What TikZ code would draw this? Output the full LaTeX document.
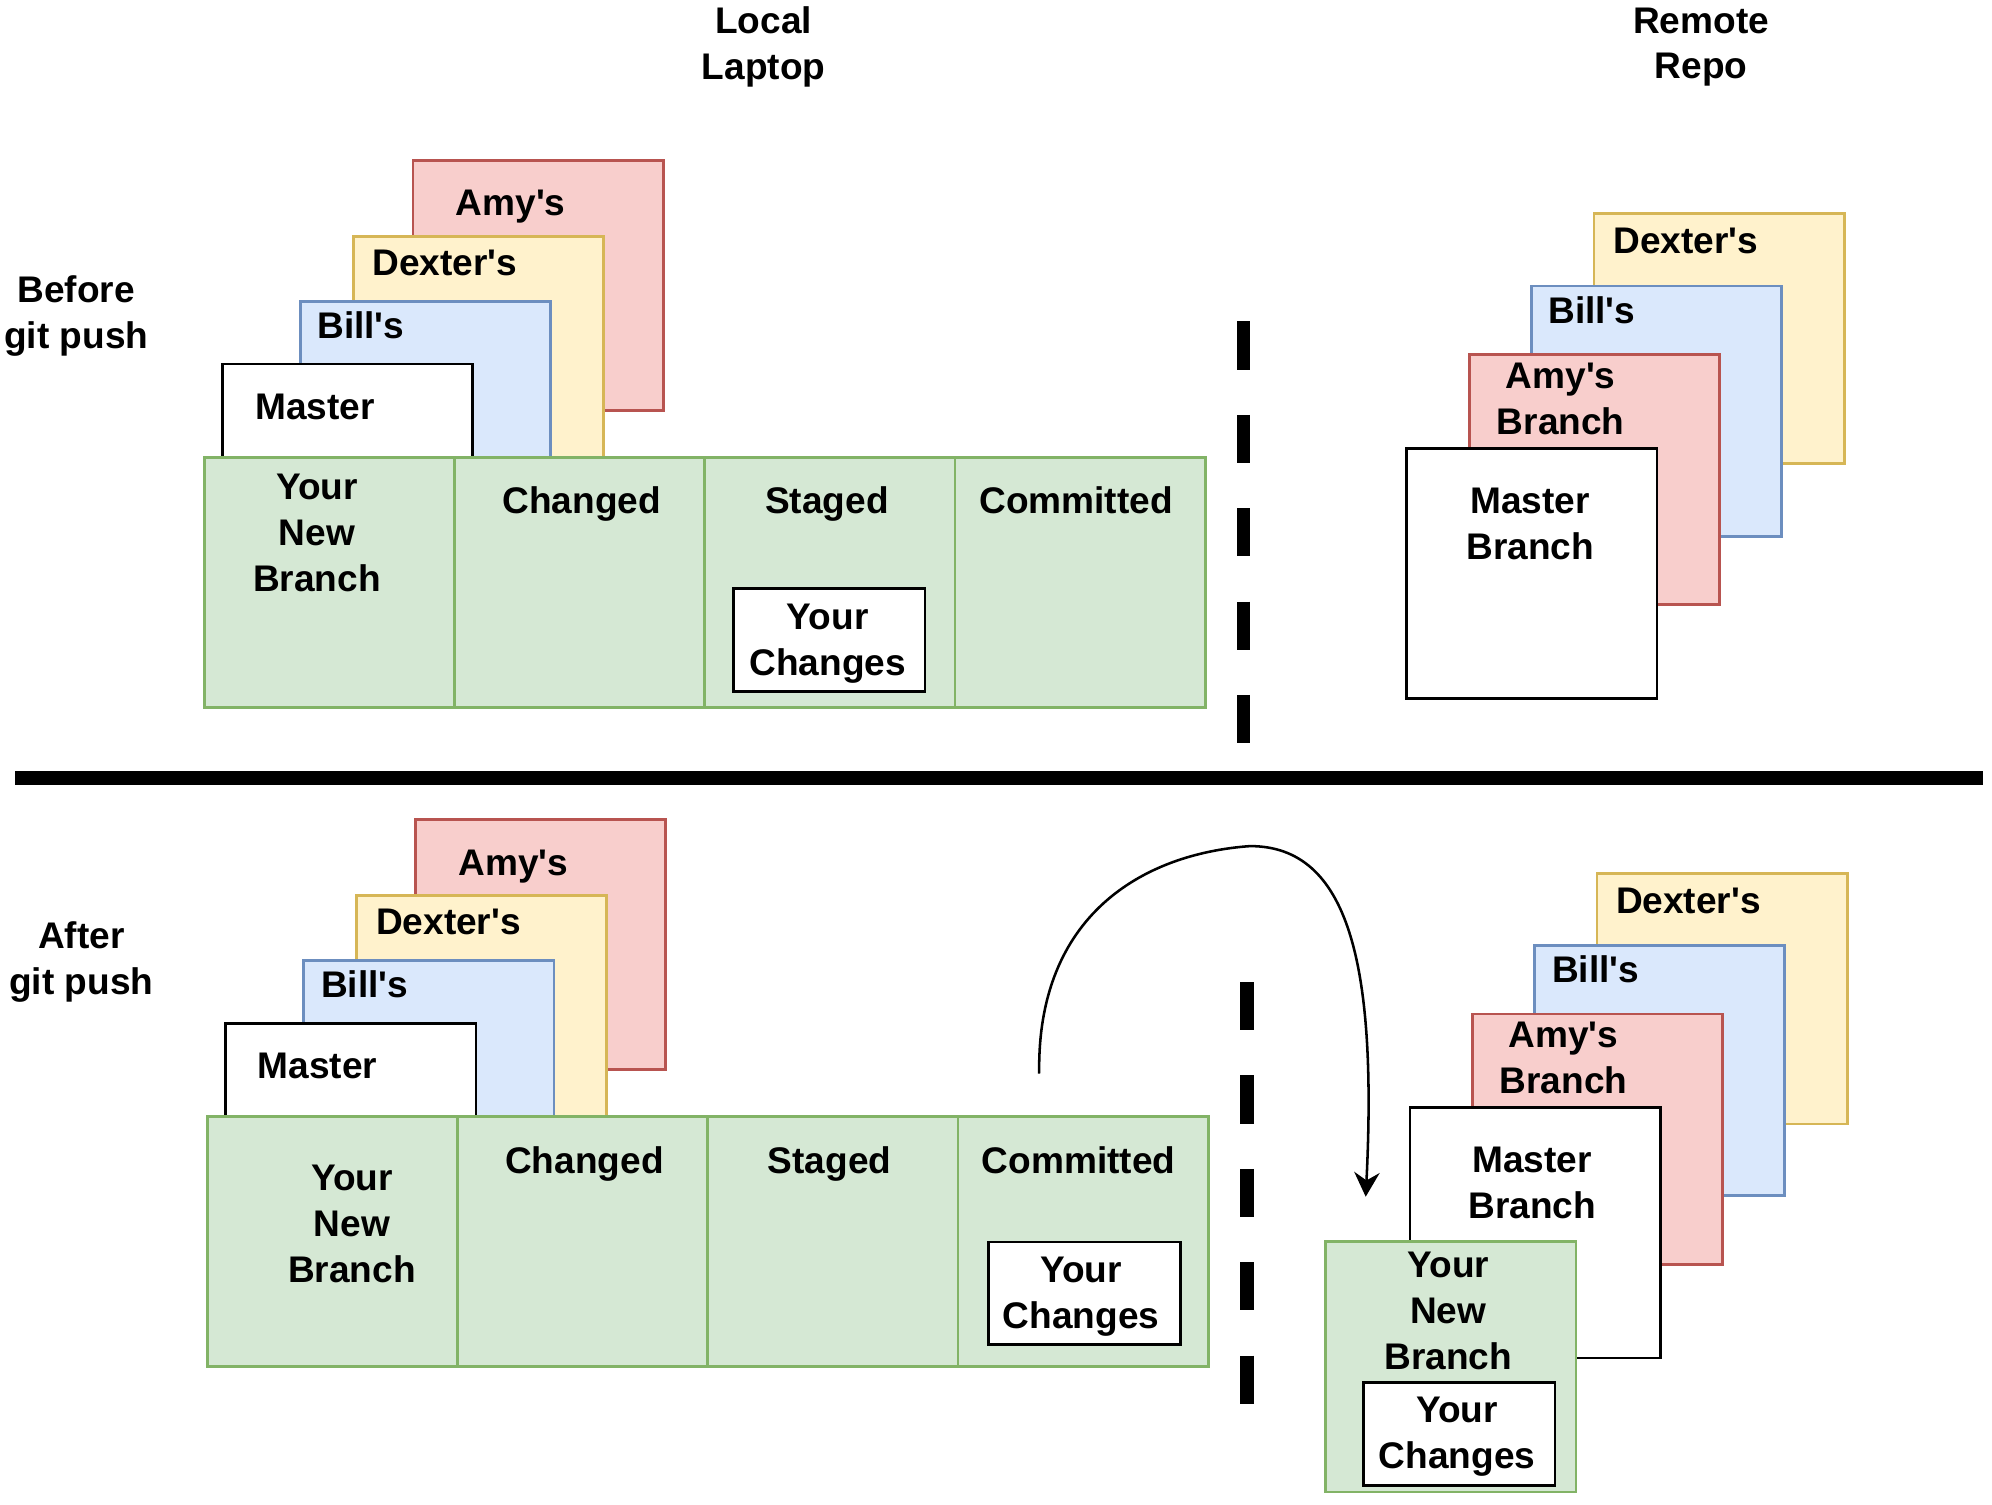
\documentclass[tikz,border=0pt]{standalone}
\usepackage{fontspec}
\setmainfont{Liberation Sans}
\usetikzlibrary{arrows.meta}
\definecolor{redF}{HTML}{F8CECC}\definecolor{redD}{HTML}{B85450}
\definecolor{yelF}{HTML}{FFF2CC}\definecolor{yelD}{HTML}{D6B656}
\definecolor{bluF}{HTML}{DAE8FC}\definecolor{bluD}{HTML}{6C8EBF}
\definecolor{grnF}{HTML}{D5E8D4}\definecolor{grnD}{HTML}{82B366}
\newcommand\myap{\textquotesingle}
\tikzset{
  sq/.style={draw, line width=1.3pt, minimum width=118.2pt, minimum height=118.2pt, inner sep=0pt, anchor=north west},
  redsq/.style={sq, fill=redF, draw=redD},
  yelsq/.style={sq, fill=yelF, draw=yelD},
  blusq/.style={sq, fill=bluF, draw=bluD},
  whsq/.style={sq, fill=white, draw=black},
  cell/.style={sq, fill=grnF, draw=grnD},
  chg/.style={draw=black, fill=white, line width=1.3pt, minimum width=90.6pt, minimum height=48.6pt, inner sep=0pt, anchor=north west},
  txt/.style={font=\fontsize{17.5}{21.6}\selectfont\bfseries, align=center, inner sep=0pt},
  sepline/.style={line width=6.3pt, dash pattern=on 22.8pt off 21.3pt},
  hline/.style={line width=6.3pt},
  push/.style={line width=1.2pt, -{Stealth[length=11.5pt,width=12pt,inset=3.8pt]}}
}
\begin{document}
\begin{tikzpicture}[x=0.6pt,y=-0.6pt]
\useasboundingbox (0,0) rectangle (1568,1183.9);
\fill[white] (0,0) rectangle (1568,1183.9);

% headers
\node[txt] (local) at (601,37) {Local\\Laptop};
\node[txt] (remote) at (1339,37) {Remote\\Repo};
\node[txt] (before) at (60,248.5) {Before\\git push};
\node[txt] (after) at (64,757.5) {After\\git push};

% ===== top: local =====
\node[redsq] (aL1) at (324,125) {};
\node[txt] (aL1t) at (402,163) {Amy\myap s};
\node[yelsq] (dL1) at (277,185) {};
\node[txt] (dL1t) at (350,207) {Dexter\myap s};
\node[blusq] (bL1) at (235.5,236) {};
\node[txt] (bL1t) at (284,256) {Bill\myap s};
\node[whsq] (mL1) at (174,285.5) {};
\node[txt] (mL1t) at (248,320) {Master};

\node[cell] (c1a) at (159.6,359) {};
\node[cell] (c1b) at (356.6,359) {};
\node[cell] (c1c) at (553.6,359) {};
\node[cell] (c1d) at (750.6,359) {};
\node[txt] (c1at) at (249.5,419.5) {Your\\New\\Branch};
\node[txt] (c1bt) at (458,397) {Changed};
\node[txt] (c1ct) at (651,397) {Staged};
\node[txt] (c1dt) at (847,394) {Committed};
\node[chg] (yc1) at (576,462) {};
\node[txt] (yc1t) at (651.5,506.5) {Your\\Changes};

\draw[sepline] (979,253) -- (979,586);

% ===== top: remote =====
\node[yelsq] (dR1) at (1253.6,166.7) {};
\node[txt] (dR1t) at (1327,190) {Dexter\myap s};
\node[blusq] (bR1) at (1204.3,224) {};
\node[txt] (bR1t) at (1253,244) {Bill\myap s};
\node[redsq] (aR1) at (1155.5,277.8) {};
\node[txt] (aR1t) at (1228.5,314) {Amy\myap s\\Branch};
\node[whsq] (mR1) at (1106.2,351.8) {};
\node[txt] (mR1t) at (1204.5,412.5) {Master\\Branch};

% separator
\draw[hline] (12,612.5) -- (1561,612.5);

% ===== bottom: local =====
\node[redsq] (aL2) at (326,644) {};
\node[txt] (aL2t) at (404,682) {Amy\myap s};
\node[yelsq] (dL2) at (279.5,704) {};
\node[txt] (dL2t) at (353,726) {Dexter\myap s};
\node[blusq] (bL2) at (238,755) {};
\node[txt] (bL2t) at (287,775) {Bill\myap s};
\node[whsq] (mL2) at (176.5,804.5) {};
\node[txt] (mL2t) at (250,839) {Master};

\node[cell] (c2a) at (162,877.5) {};
\node[cell] (c2b) at (359,877.5) {};
\node[cell] (c2c) at (556,877.5) {};
\node[cell] (c2d) at (753,877.5) {};
\node[txt] (c2at) at (277,963.5) {Your\\New\\Branch};
\node[txt] (c2bt) at (460,916) {Changed};
\node[txt] (c2ct) at (653,916) {Staged};
\node[txt] (c2dt) at (849,913) {Committed};
\node[chg] (yc2) at (777,976.5) {};
\node[txt] (yc2t) at (851,1020.5) {Your\\Changes};

\draw[sepline] (981.5,773) -- (981.5,1106);

% ===== bottom: remote =====
\node[yelsq] (dR2) at (1256,686.7) {};
\node[txt] (dR2t) at (1329,709) {Dexter\myap s};
\node[blusq] (bR2) at (1206.7,743) {};
\node[txt] (bR2t) at (1256,763) {Bill\myap s};
\node[redsq] (aR2) at (1158,797) {};
\node[txt] (aR2t) at (1230.7,833) {Amy\myap s\\Branch};
\node[whsq] (mR2) at (1108.7,870.8) {};
\node[txt] (mR2t) at (1206,931) {Master\\Branch};
\node[cell] (nbR2) at (1042.5,976.4) {};
\node[txt] (nbR2t) at (1140,1032) {Your\\New\\Branch};
\node[chg] (ycR2) at (1072,1087.3) {};
\node[txt] (ycR2t) at (1147,1131) {Your\\Changes};

% push arrow
\coordinate (arrS) at (818,845);
\coordinate (arrT) at (984,666);
\coordinate (arrE) at (1075,942);
\draw[push] (arrS) .. controls (816,720) and (900,672) .. (arrT)
  .. controls (1062,666) and (1084,760) .. (arrE);
\end{tikzpicture}
\end{document}
